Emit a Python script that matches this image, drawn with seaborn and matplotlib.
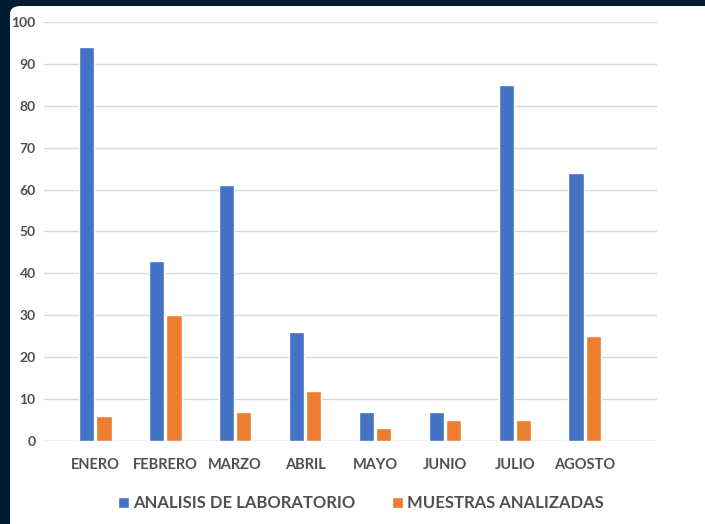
import pandas as pd
import seaborn as sns
import matplotlib.pyplot as plt
from matplotlib.patches import FancyBboxPatch

# Datos
meses = ['ENERO', 'FEBRERO', 'MARZO', 'ABRIL', 'MAYO', 'JUNIO', 'JULIO', 'AGOSTO']
analisis = [94, 43, 61, 26, 7, 7, 85, 64]
muestras = [6, 30, 7, 12, 3, 5, 5, 25]
series = ['ANALISIS DE LABORATORIO', 'MUESTRAS ANALIZADAS']
colores = ['#4472C4', '#ED7D31']

df = pd.DataFrame({
    'mes': meses * 2,
    'serie': [series[0]] * len(meses) + [series[1]] * len(meses),
    'valor': analisis + muestras,
})

sns.set_style('white')
plt.rcParams['font.family'] = ['Lato', 'DejaVu Sans']

fig = plt.figure(figsize=(7.05, 5.24), dpi=100)
fig.patch.set_facecolor('#021B35')

# panel blanco de fondo
panel = FancyBboxPatch((10 / 705, -0.05), 1.2, (524 - 6) / 524 + 0.05,
                       boxstyle='round,pad=0,rounding_size=0.015',
                       transform=fig.transFigure, facecolor='white',
                       edgecolor='none', zorder=-10)
fig.patches.append(panel)

ax = fig.add_axes([44 / 705, 83 / 524, (657 - 44) / 705, (441 - 22) / 524])
ax.set_facecolor('none')
ax.set_zorder(1)

sns.barplot(data=df, x='mes', y='valor', hue='serie', palette=colores,
            saturation=1, width=0.5, gap=0.12, ax=ax, zorder=3)

ax.set_ylim(0, 100)
ax.set_xlim(-0.73, 8.03)
ax.set_yticks(range(0, 101, 10))
ax.yaxis.grid(True, color='#D9D9D9', linewidth=1, zorder=0)
ax.set_axisbelow(True)
sns.despine(ax=ax, left=True, bottom=True)
ax.axhline(0, color='#D9D9D9', linewidth=1, zorder=1)

gris = '#505050'
ax.set_xlabel('')
ax.set_ylabel('')
ax.tick_params(axis='y', length=0, pad=6, labelsize=10, labelcolor=gris)
ax.tick_params(axis='x', length=0, pad=12, labelsize=10.5, labelcolor=gris)
for t in ax.get_xticklabels() + ax.get_yticklabels():
    t.set_fontweight('bold')

leg = ax.legend(loc='center', bbox_to_anchor=(0.517, -0.148), ncol=2,
                frameon=False, fontsize=12, handlelength=0.65, handleheight=0.65,
                handletextpad=0.25, columnspacing=2.2, labelcolor=gris)
for t in leg.get_texts():
    t.set_fontweight('bold')

fig.savefig('out.png', dpi=100, facecolor=fig.get_facecolor())
